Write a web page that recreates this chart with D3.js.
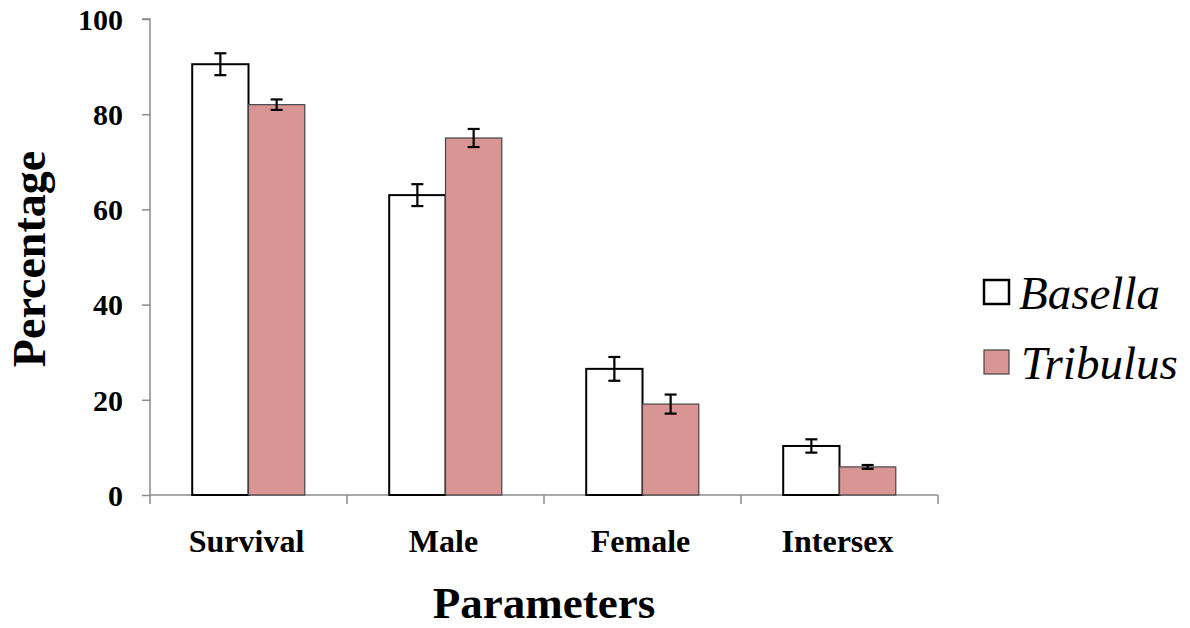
<!DOCTYPE html>
<html><head><meta charset="utf-8">
<script src="https://cdn.jsdelivr.net/npm/d3@7"></script>
<style>body{margin:0;background:#fff}</style>
</head><body>
<svg id="c" width="1190" height="628"></svg>
<script>
const categories = ["Survival", "Male", "Female", "Intersex"];
const seriesNames = ["Basella", "Tribulus"];
const basellaValues = [90.5, 63.0, 26.5, 10.3];
const basellaErrors = [2.3, 2.3, 2.5, 1.4];
const tribulusValues = [82.0, 75.0, 19.1, 5.9];
const tribulusErrors = [1.1, 1.9, 2.0, 0.4];
const yTicks = [0, 20, 40, 60, 80, 100];
const colors = ["#ffffff", "#d99594"];

(function () {
const svg = d3.select("#c");
const pLeft = 150, pRight = 938, pTop = 19, pBottom = 495;
const x = d3.scaleBand().domain(categories).range([pLeft, pRight]).paddingInner(0).paddingOuter(0);
const inner = d3.scaleBand().domain(seriesNames).range([0, x.bandwidth()]).paddingOuter(0.75).paddingInner(0);
const y = d3.scaleLinear().domain([0, 100]).range([pBottom, pTop]);

const font = "'Liberation Serif', 'Times New Roman', serif";
const italicFont = "'Liberation Serif', 'DejaVu Serif', serif";

// y axis
const yAxis = svg.append("g").attr("transform", `translate(${pLeft},0)`)
  .call(d3.axisLeft(y).tickValues(yTicks).tickSize(8).tickPadding(19));
yAxis.select(".domain").attr("stroke", "#8c8c8c").attr("stroke-width", 1.5).attr("d", `M-8,${pTop}H0V${pBottom}`);
yAxis.selectAll(".tick line").attr("stroke", "#8c8c8c").attr("stroke-width", 1.5);
yAxis.selectAll(".tick text").attr("font-family", font).attr("font-weight", "bold").attr("font-size", 30).attr("fill", "#000").attr("dy", "0.34em");

// x axis
const xAxis = svg.append("g").attr("transform", `translate(0,${pBottom})`)
  .call(d3.axisBottom(x).tickSize(0));
xAxis.select(".domain").attr("stroke", "#8c8c8c").attr("stroke-width", 1.5).attr("d", `M${pLeft},0H${pRight}`);
xAxis.selectAll(".tick text").attr("font-family", font).attr("font-weight", "bold").attr("font-size", 32)
  .attr("fill", "#000").attr("y", 57).attr("dy", 0).attr("dx", -2);
const bounds = categories.map(c => x(c)).concat([pRight]);
xAxis.selectAll(".bnd").data(bounds).enter().append("line")
  .attr("x1", d => d).attr("x2", d => d).attr("y1", 0).attr("y2", 9)
  .attr("stroke", "#8c8c8c").attr("stroke-width", 1.5);

// bars
const data = [];
categories.forEach((c, i) => {
  data.push({c, s: "Basella", v: basellaValues[i], e: basellaErrors[i], k: 0});
  data.push({c, s: "Tribulus", v: tribulusValues[i], e: tribulusErrors[i], k: 1});
});
svg.append("g").selectAll("rect").data(data).enter().append("rect")
  .attr("x", d => x(d.c) + inner(d.s))
  .attr("y", d => y(d.v))
  .attr("width", inner.bandwidth())
  .attr("height", d => y(0) - y(d.v))
  .attr("fill", d => colors[d.k])
  .attr("stroke", d => d.k === 0 ? "#000" : "#444")
  .attr("stroke-width", d => d.k === 0 ? 2 : 1.2);

// error bars
const eg = svg.append("g").attr("stroke", "#000").attr("stroke-width", 2.2);
data.forEach(d => {
  const cx = x(d.c) + inner(d.s) + inner.bandwidth() / 2;
  const y1 = y(d.v + d.e), y2 = y(d.v - d.e);
  eg.append("line").attr("x1", cx).attr("x2", cx).attr("y1", y1).attr("y2", y2);
  eg.append("line").attr("x1", cx - 6).attr("x2", cx + 6).attr("y1", y1).attr("y2", y1);
  eg.append("line").attr("x1", cx - 6).attr("x2", cx + 6).attr("y1", y2).attr("y2", y2);
});

// axis titles
svg.append("text").attr("x", 544).attr("y", 618).attr("text-anchor", "middle")
  .attr("font-family", font).attr("font-weight", "bold").attr("font-size", 45).text("Parameters");
svg.append("text").attr("transform", "translate(45,259) rotate(-90)").attr("text-anchor", "middle")
  .attr("font-family", font).attr("font-weight", "bold").attr("font-size", 46).text("Percentage");

// legend
const lg = svg.append("g");
seriesNames.forEach((s, i) => {
  const yy = 280 + i * 70;
  lg.append("rect").attr("x", 984).attr("y", yy).attr("width", 25).attr("height", 24)
    .attr("fill", colors[i]).attr("stroke", i === 0 ? "#000" : "#444").attr("stroke-width", i === 0 ? 2.5 : 1.2);
  lg.append("text").attr("x", 1019 + i * 2).attr("y", yy + 29)
    .attr("font-family", italicFont).attr("font-style", "italic").attr("font-weight", "normal")
    .attr("font-size", 47).attr("fill", "#000").text(s);
});
})();
</script>
</body></html>
